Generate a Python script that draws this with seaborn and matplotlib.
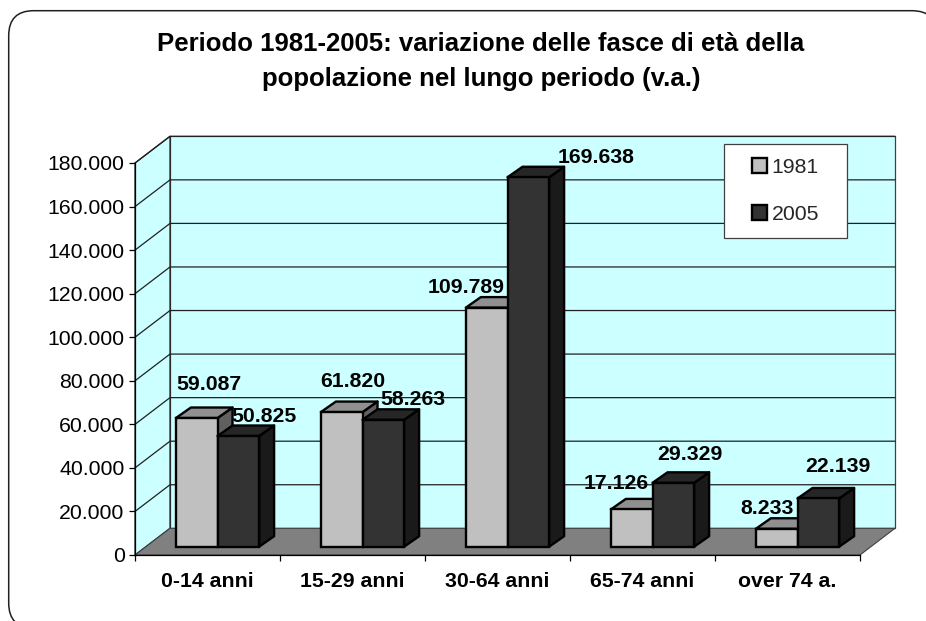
import matplotlib
matplotlib.use('Agg')
import matplotlib.pyplot as plt
from matplotlib.patches import FancyBboxPatch, Patch, Polygon, Rectangle
from matplotlib.transforms import Affine2D, IdentityTransform
import pandas as pd
import seaborn as sns

categories = ['0-14 anni', '15-29 anni', '30-64 anni', '65-74 anni', 'over 74 a.']
values_1981 = [59087, 61820, 109789, 17126, 8233]
values_2005 = [50825, 58263, 169638, 29329, 22139]
years = ['1981', '2005']
y_ticks = [0, 20000, 40000, 60000, 80000, 100000, 120000, 140000, 160000, 180000]
title_text = 'Periodo 1981-2005: variazione delle fasce di età della\npopolazione nel lungo periodo (v.a.)'

# label offsets from the front top centre of each bar, in pixels
label_offsets = [(12, 34), (26, 20), (11, 31), (29.5, 20), (-20.5, 20),
                 (68, 20), (-15.5, 26), (16.4, 28), (-9.5, 20), (19.3, 32)]

front_colors = {'1981': '#C0C0C0', '2005': '#333333'}
top_colors = {'1981': '#909090', '2005': '#262626'}
side_colors = {'1981': '#606060', '2005': '#1A1A1A'}

W, H = 926, 621
WALL_DX, WALL_DY = 35, 26.7
BAR_NEAR = (10, 8.3)
BAR_DEPTH = (15, 10.5)
FS = 15.3

sns.set_theme(style='white')
plt.rcParams['font.family'] = ['Liberation Sans', 'DejaVu Sans']

fig = plt.figure(figsize=(W / 100, H / 100), dpi=100, facecolor='white')
ax = fig.add_axes([135 / W, (H - 555) / H, 725 / W, 392 / H])
ax.patch.set_visible(False)

df = pd.DataFrame({
    'categoria': categories * 2,
    'anno': [years[0]] * 5 + [years[1]] * 5,
    'valore': values_1981 + values_2005,
})
sns.barplot(data=df, x='categoria', y='valore', hue='anno', palette=front_colors,
            width=0.574, gap=0, edgecolor='black', linewidth=1.7, saturation=1,
            legend=False, ax=ax)

ax.set_xlim(-0.5, 4.5)
ax.set_ylim(0, 180000)
fig.canvas.draw()


def to_px(x, y):
    return ax.transData.transform((x, y))


def add_poly(points, color, z, edge='black', lw=1.7):
    ax.add_patch(Polygon(points, closed=True, facecolor=color, edgecolor=edge, linewidth=lw,
                         transform=IdentityTransform(), zorder=z, clip_on=False,
                         joinstyle='round'))


# walls and floor
x0, y0 = to_px(-0.5, 0)
x1, y_top = to_px(4.5, 180000)
add_poly([(x0 + WALL_DX, y0 + WALL_DY), (x1 + WALL_DX, y0 + WALL_DY),
          (x1 + WALL_DX, y_top + WALL_DY), (x0 + WALL_DX, y_top + WALL_DY)],
         '#CCFFFF', 0.5, edge='#404040', lw=0.9)
add_poly([(x0, y0), (x0 + WALL_DX, y0 + WALL_DY), (x0 + WALL_DX, y_top + WALL_DY), (x0, y_top)],
         '#CCFFFF', 0.5, edge='#202020', lw=0.9)
for tick in y_ticks[1:]:
    _, yy = to_px(-0.5, tick)
    ax.plot([x0, x0 + WALL_DX, x1 + WALL_DX], [yy, yy + WALL_DY, yy + WALL_DY],
            color='#202020', lw=0.9, transform=IdentityTransform(), zorder=0.8, clip_on=False)
add_poly([(x0, y0), (x1, y0), (x1 + WALL_DX, y0 + WALL_DY), (x0 + WALL_DX, y0 + WALL_DY)],
         '#808080', 1, edge='#404040', lw=0.8)

# bars get moved back into the chart depth, with top and side faces built on them
shift = ax.transData + Affine2D().translate(*BAR_NEAR)
n_cat = len(categories)
for i, bar in enumerate(ax.patches[:n_cat * 2]):
    year = years[i // n_cat]
    z = 5 + 2 * (i // n_cat)
    bar.set_transform(shift)
    bar.set_zorder(z + 1)
    bar.set_clip_on(False)
    (xa, ya) = shift.transform((bar.get_x(), 0))
    (xb, yb) = shift.transform((bar.get_x() + bar.get_width(), bar.get_height()))
    ddx, ddy = BAR_DEPTH
    add_poly([(xb, ya), (xb + ddx, ya + ddy), (xb + ddx, yb + ddy), (xb, yb)], side_colors[year], z)
    add_poly([(xa, yb), (xb, yb), (xb + ddx, yb + ddy), (xa + ddx, yb + ddy)], top_colors[year], z)

    vals = values_1981 if i < n_cat else values_2005
    order = i % n_cat
    off = label_offsets[order * 2 + (i // n_cat)]
    ax.annotate(f'{vals[order]:,}'.replace(',', '.'),
                xy=(bar.get_x() + bar.get_width() / 2, vals[order]), xycoords=shift,
                xytext=off, textcoords='offset pixels', ha='center', va='center',
                fontsize=FS, fontweight='bold', color='black', zorder=20, annotation_clip=False)

# axes
sns.despine(ax=ax, top=True, right=True)
for side in ['left', 'bottom']:
    ax.spines[side].set_color('black')
    ax.spines[side].set_linewidth(0.9)
    ax.spines[side].set_zorder(3)
ax.set_yticks(y_ticks)
ax.set_yticklabels([f'{t:,}'.replace(',', '.') for t in y_ticks], fontsize=FS, color='black')
ax.set_xticks(range(n_cat))
ax.set_xticklabels(categories, fontsize=FS, fontweight='bold', color='black')
ax.set_xticks([i - 0.5 for i in range(n_cat + 1)], minor=True)
ax.tick_params(axis='x', which='major', length=0, pad=12.5)
ax.tick_params(axis='x', which='minor', length=4.5, width=0.9, color='black', bottom=True)
ax.tick_params(axis='y', length=4.5, width=0.9, color='black', pad=3, left=True)
ax.set_xlabel('')
ax.set_ylabel('')

# legend
ax.add_patch(Rectangle((724, H - 238.3), 122.7, 94, facecolor='white', edgecolor='#404040',
                       linewidth=0.9, transform=IdentityTransform(), zorder=18, clip_on=False))
handles = [Patch(facecolor=front_colors[y], edgecolor='black', linewidth=1.7) for y in years]
leg = ax.legend(handles, years, loc='center', bbox_to_anchor=(785.5, H - 191),
                bbox_transform=IdentityTransform(), frameon=False, fontsize=FS,
                handlelength=0.72, handleheight=0.72, handletextpad=0.22, labelspacing=1.3,
                borderpad=0)
leg.set_zorder(19)

fig.text(481 / W, 1 - 61.5 / H, title_text, ha='center', va='center', fontsize=18.5,
         fontweight='bold', color='black', linespacing=1.53)

# rounded outer frame runs off the right and bottom of the picture, flattened so agg clips it cleanly
box = FancyBboxPatch((8.7, H - 628), 928.3, 617.3, boxstyle='round,pad=0,rounding_size=25')
frame = Polygon(box.get_path().to_polygons()[0], closed=True, facecolor='none',
                edgecolor='#202020', linewidth=1.1, transform=IdentityTransform(), zorder=-1)
fig.add_artist(frame)

fig.savefig('out.png', dpi=100)
